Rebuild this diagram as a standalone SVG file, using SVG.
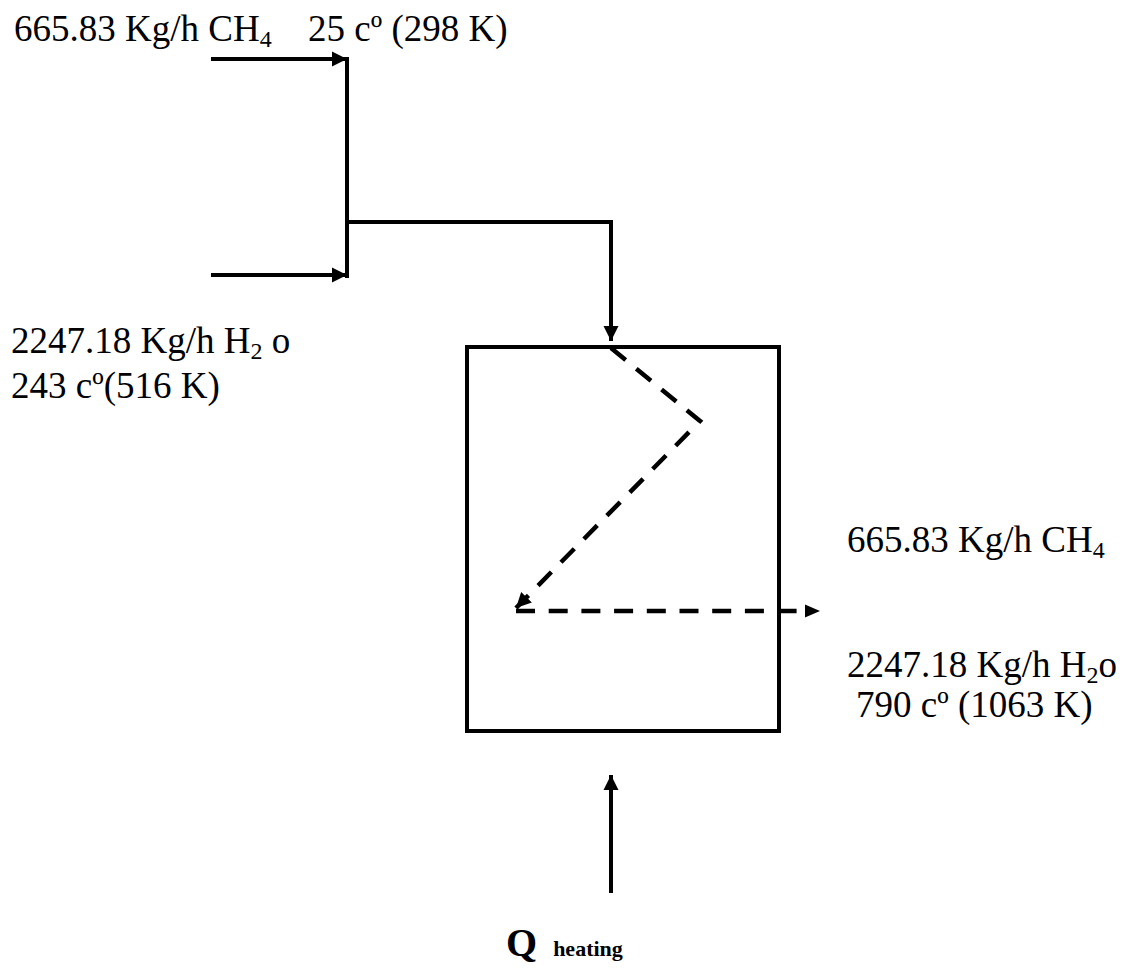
<svg xmlns="http://www.w3.org/2000/svg" width="1126" height="972" viewBox="0 0 1126 972">
<style>
.t{font-family:"Liberation Serif","Times New Roman",serif;font-size:37px;fill:#000}
.s{font-size:24px}
.ln{fill:none;stroke:#000;stroke-width:4}
.ds{fill:none;stroke:#000;stroke-width:4.5;stroke-dasharray:19 13.7}
.qb{font-family:"Liberation Serif","Times New Roman",serif;font-weight:bold;fill:#000}
</style>
<defs>
<marker id="ah" markerUnits="userSpaceOnUse" markerWidth="16" markerHeight="16" refX="15" refY="8" orient="auto">
<path d="M0,0.5 L15,8 L0,15.5 Z" fill="#000"/>
</marker>
</defs>
<rect width="1126" height="972" fill="#fff"/>
<g id="connectors">
<line class="ln" x1="211" y1="59" x2="347" y2="59" marker-end="url(#ah)"/>
<line class="ln" x1="211" y1="275" x2="347" y2="275" marker-end="url(#ah)"/>
<line class="ln" x1="347" y1="57" x2="347" y2="278"/>
<polyline class="ln" points="347,222 611,222 611,341" marker-end="url(#ah)"/>
<polyline class="ds" points="611,348 700,421 516,608" marker-end="url(#ah)"/>
<line class="ds" x1="516" y1="611" x2="797" y2="611"/>
<path d="M805,604.5 L820,611 L805,617.5 Z" fill="#000"/>
<line class="ln" x1="611" y1="893" x2="611" y2="775" marker-end="url(#ah)"/>
</g>
<g id="reactor">
<rect class="ln" x="467" y="347" width="312" height="384"/>
</g>
<g id="labels">
<text class="t" x="14" y="41">665.83 Kg/h CH<tspan class="s" dy="6">4</tspan></text>
<text class="t" x="308" y="41">25 cº (298 K)</text>
<text class="t" x="11" y="353">2247.18 Kg/h H<tspan class="s" dy="6">2</tspan><tspan dy="-6"> o</tspan></text>
<text class="t" x="11" y="398">243 cº(516 K)</text>
<text class="t" x="847" y="552">665.83 Kg/h CH<tspan class="s" dy="6">4</tspan></text>
<text class="t" x="847" y="677">2247.18 Kg/h H<tspan class="s" dy="6">2</tspan><tspan dy="-6">o</tspan></text>
<text class="t" x="856" y="717">790 cº (1063 K)</text>
<text class="qb" x="506" y="956" font-size="40">Q<tspan font-size="22" dx="16">heating</tspan></text>
</g>
</svg>
